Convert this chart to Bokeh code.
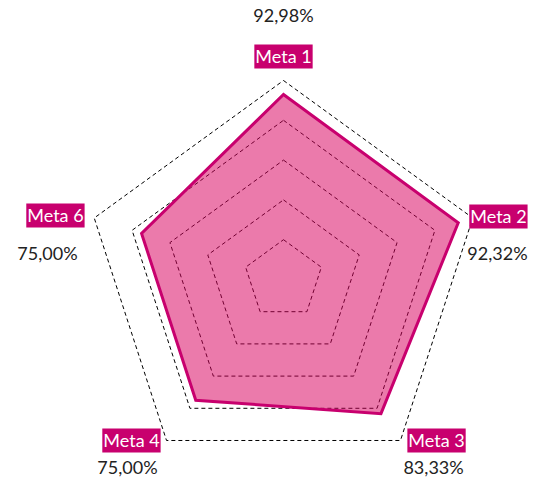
import numpy as np
from bokeh.plotting import figure
from bokeh.models import ColumnDataSource
from bokeh.core.properties import value
from bokeh.embed import file_html
from bokeh.resources import INLINE

# ---- data ----
categories = ["Meta 1", "Meta 2", "Meta 3", "Meta 4", "Meta 6"]
values = [92.98, 92.32, 83.33, 75.00, 75.00]
value_labels = ["92,98%", "92,32%", "83,33%", "75,00%", "75,00%"]
ring_levels = [20, 40, 60, 80, 100]

# ---- layout (data units, centre = 0,0, radius 100 = outer ring) ----
angles = np.deg2rad(90 - 72 * np.arange(len(categories)))
cat_x = [0.0, 108.0, 76.9, -76.4, -114.6]
cat_y = [112.1, 31.7, -80.9, -80.9, 32.2]
val_x = [0.0, 107.5, 75.4, -78.4, -118.6]
val_y = [132.7, 13.1, -94.0, -94.0, 13.1]

W, H = 530, 480
scale = 1.99
cx, cy = 283, 279
p = figure(width=W, height=H, output_backend="svg", toolbar_location=None,
           x_range=(-cx / scale, (W - cx) / scale),
           y_range=(-(H - cy) / scale, cy / scale),
           min_border=0)
p.axis.visible = False
p.grid.visible = False
p.outline_line_color = None
p.background_fill_color = "white"

# grid rings
for r in ring_levels:
    xs = list(r * np.cos(angles)) + [r * np.cos(angles[0])]
    ys = list(r * np.sin(angles)) + [r * np.sin(angles[0])]
    p.line(xs, ys, line_color="black", line_width=1, line_dash="4 3")

# data polygon
vx = np.array(values) * np.cos(angles)
vy = np.array(values) * np.sin(angles)
p.patch(list(vx), list(vy), fill_color="#D9005E", fill_alpha=0.52,
        line_color="#C8006E", line_width=3, line_join="miter")

src = ColumnDataSource(dict(x=cat_x, y=cat_y, t=categories))
p.text(x="x", y="y", text="t", source=src, text_align="center",
       text_baseline="middle", text_color="white", text_font=value("Lato"),
       text_font_size="18px", background_fill_color="#C8006E", padding=1)

src2 = ColumnDataSource(dict(x=val_x, y=val_y, t=value_labels))
p.text(x="x", y="y", text="t", source=src2, text_align="center",
       text_baseline="middle", text_color="#222222", text_font=value("Lato"),
       text_font_size="18px")

open("out.html", "w").write(file_html(p, INLINE))
